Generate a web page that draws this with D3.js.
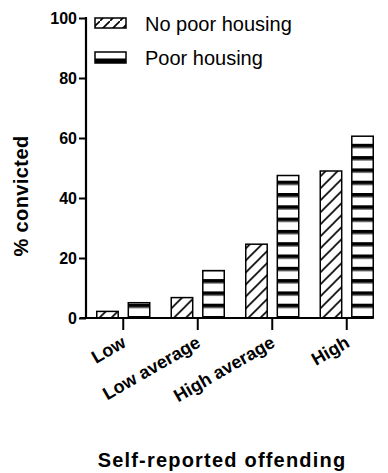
<!DOCTYPE html>
<html>
<head>
<meta charset="utf-8">
<script src="https://cdn.jsdelivr.net/npm/d3@7"></script>
<style>
  html, body { margin: 0; padding: 0; background: #fff; }
  svg { display: block; font-family: "Liberation Sans", Arial, sans-serif; }
</style>
</head>
<body>
<svg id="chart" width="388" height="473"></svg>
<script>
// Conviction rates by self-reported offending level, split by housing
const categories = ["Low", "Low average", "High average", "High"];
const seriesNames = ["No poor housing", "Poor housing"];
const noPoorHousing = [2.2, 6.8, 24.6, 49.0];
const poorHousing = [5.1, 15.8, 47.5, 60.6];
const yTicks = [0, 20, 40, 60, 80, 100];

const svg = d3.select("#chart");
const plot = { left: 86, right: 384, top: 18, bottom: 318, axisEnd: 373 };

const x = d3.scaleBand().domain(categories).range([plot.left, plot.right]).padding(0);
const xSub = d3.scaleBand().domain(seriesNames).range([-26.5, 26.5]).paddingInner(0.32);
const y = d3.scaleLinear().domain([0, 100]).range([plot.bottom, plot.top]);

// Fill patterns: diagonal hatch and horizontal bands
const defs = svg.append("defs");
const hatch = defs.append("pattern")
  .attr("id", "hatch").attr("patternUnits", "userSpaceOnUse")
  .attr("width", 12).attr("height", 12).attr("y", plot.bottom);
hatch.append("rect").attr("width", 12).attr("height", 12).attr("fill", "#fff");
hatch.append("path").attr("d", "M-3,15 L15,-3 M-3,3 L3,-3 M9,15 L15,9")
  .attr("stroke", "#000").attr("stroke-width", 1.6);

const bands = defs.append("pattern")
  .attr("id", "bands").attr("patternUnits", "userSpaceOnUse")
  .attr("width", 12).attr("height", 12.3).attr("y", plot.bottom - 2);
bands.append("rect").attr("width", 12).attr("height", 12.3).attr("fill", "#fff");
bands.append("rect").attr("y", 0).attr("width", 12).attr("height", 3.6).attr("fill", "#000");
bands.append("rect").attr("y", 3.6).attr("width", 12).attr("height", 0.8).attr("fill", "#444");

const fills = { "No poor housing": "url(#hatch)", "Poor housing": "url(#bands)" };
const rows = categories.map((c, i) => ({ cat: c, values: [
  { key: seriesNames[0], value: noPoorHousing[i] },
  { key: seriesNames[1], value: poorHousing[i] }
]}));

// Bars
const groups = svg.append("g").selectAll("g").data(rows).join("g")
  .attr("transform", d => `translate(${x(d.cat) + x.bandwidth() / 2},0)`);
groups.selectAll("rect").data(d => d.values).join("rect")
  .attr("x", d => xSub(d.key))
  .attr("width", xSub.bandwidth())
  .attr("y", d => y(d.value))
  .attr("height", d => y(0) - y(d.value))
  .attr("fill", d => fills[d.key])
  .attr("stroke", "#000").attr("stroke-width", 1.5);

// Y axis
const yAxis = svg.append("g").attr("transform", `translate(${plot.left},0)`)
  .call(d3.axisLeft(y).tickValues(yTicks).tickSize(7).tickPadding(2));
yAxis.select(".domain").attr("stroke-width", 2.2).attr("d", `M0,${plot.bottom + 1}V${plot.top - 1}`);
yAxis.selectAll(".tick line").attr("stroke-width", 2);
yAxis.selectAll(".tick text").attr("font-size", 16).attr("font-weight", "bold")
  .attr("font-family", "Liberation Sans, Arial, sans-serif").attr("fill", "#000");

// X axis
const xAxis = svg.append("g").attr("transform", `translate(0,${plot.bottom})`)
  .call(d3.axisBottom(x).tickSize(12).tickFormat(""));
xAxis.select(".domain").attr("stroke-width", 2.2).attr("d", `M${plot.left - 6},0H${plot.axisEnd}`);
xAxis.selectAll(".tick line").attr("stroke-width", 2);

svg.append("g").selectAll("text").data(categories).join("text")
  .attr("transform", d => `translate(${x(d) + x.bandwidth() / 2 + 4},${plot.bottom + 28}) rotate(-30)`)
  .attr("text-anchor", "end")
  .attr("font-size", 18).attr("font-weight", "bold")
  .text(d => d);

// Axis titles
svg.append("text")
  .attr("transform", `translate(28,196) rotate(-90)`)
  .attr("text-anchor", "middle")
  .attr("font-size", 20).attr("font-weight", "bold").attr("letter-spacing", 0.4)
  .text("% convicted");
svg.append("text")
  .attr("x", 222).attr("y", 467)
  .attr("text-anchor", "middle")
  .attr("font-size", 20).attr("font-weight", "bold").attr("letter-spacing", 1.2)
  .text("Self-reported offending");

// Legend
const legendHatch = defs.append("pattern")
  .attr("id", "hatchLegend").attr("patternUnits", "userSpaceOnUse")
  .attr("width", 10).attr("height", 10).attr("x", 95).attr("y", 18);
legendHatch.append("rect").attr("width", 10).attr("height", 10).attr("fill", "#fff");
legendHatch.append("path").attr("d", "M-3,13 L13,-3").attr("stroke", "#000").attr("stroke-width", 1.6);

const legendY = d3.scalePoint().domain(seriesNames).range([23, 57]);
const legend = svg.append("g").selectAll("g").data(seriesNames).join("g")
  .attr("transform", d => `translate(95,${legendY(d)})`);
legend.filter(d => d === seriesNames[0]).append("rect")
  .attr("x", 0).attr("y", -5).attr("width", 31).attr("height", 10)
  .attr("fill", "url(#hatchLegend)").attr("stroke", "#000").attr("stroke-width", 1.5);
const lp = legend.filter(d => d === seriesNames[1]);
lp.append("rect").attr("x", 0).attr("y", -5).attr("width", 31).attr("height", 11)
  .attr("fill", "#fff").attr("stroke", "#000").attr("stroke-width", 1.5);
lp.append("rect").attr("x", 0).attr("y", 1.5).attr("width", 31).attr("height", 4.5).attr("fill", "#000");
legend.append("text")
  .attr("x", 50).attr("y", 7.5)
  .attr("font-size", 20)
  .text(d => d);
</script>
</body>
</html>
